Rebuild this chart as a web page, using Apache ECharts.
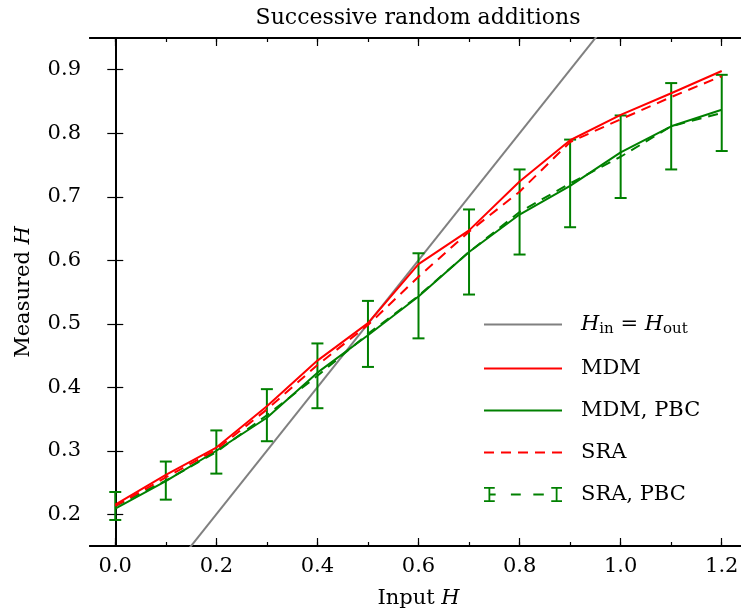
<!DOCTYPE html>
<html>
<head>
<meta charset="utf-8">
<script src="https://cdn.jsdelivr.net/npm/echarts@6/dist/echarts.min.js"></script>
<style>
    html, body { margin: 0; padding: 0; background: #fff; }
    #chart { width: 741px; height: 612px; }
</style>
</head>
<body>
<div id="chart"></div>
<script>
'use strict';

// x positions (input H)
var inputH = [0.0, 0.1, 0.2, 0.3, 0.4, 0.5, 0.6, 0.7, 0.8, 0.9, 1.0, 1.1, 1.2];

// measured H for each method
var mdm = [0.215, 0.262, 0.305, 0.370, 0.442, 0.501, 0.594, 0.647, 0.724, 0.789, 0.829, 0.863, 0.898];
var mdmPbc = [0.209, 0.252, 0.300, 0.352, 0.423, 0.482, 0.543, 0.613, 0.672, 0.717, 0.770, 0.811, 0.837];
var sra = [0.213, 0.258, 0.302, 0.365, 0.435, 0.498, 0.574, 0.645, 0.708, 0.786, 0.822, 0.857, 0.890];
var sraPbc = [0.213, 0.253, 0.298, 0.356, 0.418, 0.484, 0.544, 0.613, 0.676, 0.721, 0.763, 0.811, 0.832];
var sraPbcErr = [0.022, 0.030, 0.034, 0.041, 0.051, 0.052, 0.067, 0.067, 0.067, 0.069, 0.065, 0.068, 0.060];

// identity line H_in = H_out
var identity = [0.0, 1.3];

// ticks
var xMajorTicks = [0.0, 0.2, 0.4, 0.6, 0.8, 1.0, 1.2];
var xMinorTicks = [0.0, 0.1, 0.2, 0.3, 0.4, 0.5, 0.6, 0.7, 0.8, 0.9, 1.0, 1.1, 1.2];
var yTicks = [0.2, 0.3, 0.4, 0.5, 0.6, 0.7, 0.8, 0.9];

var FONT = 'DejaVu Serif';
var FS = 21;
var RED = '#ff0000';
var GREEN = '#008000';
var GRAY = '#808080';

var zip = function (xs, ys) {
    return xs.map(function (x, i) { return [x, ys[i]]; });
};

var errData = inputH.map(function (x, i) {
    return [x, sraPbc[i] - sraPbcErr[i], sraPbc[i] + sraPbcErr[i]];
});

// errorbar icon for the legend (dashed line with caps at both ends)
var errIcon = 'path://M5,0h2v17h-2z M0,0h12v2h-12z M0,15h12v2h-12z' +
    ' M6,7.5h7v2h-7z M30,7.5h11v2h-11z M55,7.5h11.7v2h-11.7z' +
    ' M80,0h2v17h-2z M75,0h12v2h-12z M75,15h12v2h-12z';

var axisLine = { show: true, lineStyle: { color: '#000', width: 2 } };

var xAxisBase = function (pos, ticks, len, withLabel) {
    return {
        type: 'value',
        position: pos,
        min: -0.05,
        max: 1.25,
        axisLine: axisLine,
        splitLine: { show: false },
        axisTick: { show: true, inside: true, length: len, customValues: ticks,
            lineStyle: { color: '#000', width: 1.2 } },
        axisLabel: withLabel ? {
            show: true, customValues: ticks, margin: 10,
            fontFamily: FONT, fontSize: FS, color: '#000',
            formatter: function (v) { return v.toFixed(1); }
        } : { show: false }
    };
};

var yAxisBase = function (pos, withLabel) {
    return {
        type: 'value',
        position: pos,
        min: 0.15,
        max: 0.95,
        axisLine: axisLine,
        splitLine: { show: false },
        axisTick: { show: true, inside: true, length: 8, customValues: yTicks,
            lineStyle: { color: '#000', width: 1.2 } },
        axisLabel: withLabel ? {
            show: true, customValues: yTicks, margin: 9,
            fontFamily: FONT, fontSize: FS, color: '#000',
            formatter: function (v) { return v.toFixed(1); }
        } : { show: false }
    };
};

var nameStyle = {
    fontFamily: FONT, fontSize: FS, color: '#000',
    rich: { i: { fontFamily: FONT, fontSize: FS, fontStyle: 'italic', color: '#000' } }
};

var xBottom = xAxisBase('bottom', xMajorTicks, 8, true);
xBottom.name = 'Input {i|H}';
xBottom.nameLocation = 'middle';
xBottom.nameGap = 42;
xBottom.nameTextStyle = nameStyle;

var yLeft = yAxisBase('left', true);
yLeft.name = 'Measured {i|H}';
yLeft.nameLocation = 'middle';
yLeft.nameGap = 56;
yLeft.nameTextStyle = nameStyle;

var chart = echarts.init(document.getElementById('chart'));

var option = {
    animation: false,
    backgroundColor: '#fff',
    title: {
        text: 'Successive random additions',
        left: 418,
        textAlign: 'center',
        top: 7,
        padding: 0,
        textStyle: { fontFamily: FONT, fontSize: 22, fontWeight: 'normal', color: '#000' }
    },
    grid: { left: 90, right: -6, top: 38, bottom: 66, outerBoundsMode: 'none', containLabel: false },
    legend: {
        orient: 'vertical',
        left: 483,
        top: 314,
        padding: 0,
        itemWidth: 78,
        itemHeight: 17,
        itemGap: 21,
        itemStyle: { opacity: 0 },
        data: [
            { name: 'H_in = H_out' },
            { name: 'MDM' },
            { name: 'MDM, PBC' },
            { name: 'SRA' },
            { name: 'SRA, PBC', icon: errIcon, itemStyle: { opacity: 1 } }
        ],
        formatter: function (name) {
            if (name === 'H_in = H_out') {
                return '{i|H}{s|in} = {i|H}{s|out}';
            }
            return name;
        },
        textStyle: {
            fontFamily: FONT, fontSize: FS, color: '#000',
            padding: [0, 0, 0, 14],
            rich: {
                i: { fontFamily: FONT, fontSize: FS, fontStyle: 'italic', color: '#000' },
                s: { fontFamily: FONT, fontSize: 15, color: '#000', padding: [10, 0, 0, 0] }
            }
        }
    },
    xAxis: [
        xBottom,
        xAxisBase('bottom', xMinorTicks, 4, false),
        xAxisBase('top', xMajorTicks, 8, false),
        xAxisBase('top', xMinorTicks, 4, false)
    ],
    yAxis: [
        yLeft,
        yAxisBase('right', false)
    ],
    series: [
        {
            name: 'H_in = H_out',
            type: 'line',
            data: zip(identity, identity),
            symbol: 'none',
            lineStyle: { color: GRAY, width: 2 },
            itemStyle: { color: GRAY },
            z: 1
        },
        {
            name: 'SRA, PBC err',
            type: 'custom',
            data: errData,
            z: 2,
            renderItem: function (params, api) {
                var x = api.value(0);
                var lo = api.coord([x, api.value(1)]);
                var hi = api.coord([x, api.value(2)]);
                var cap = 6;
                var style = { stroke: GREEN, lineWidth: 2 };
                return {
                    type: 'group',
                    children: [
                        { type: 'line', shape: { x1: lo[0], y1: lo[1], x2: hi[0], y2: hi[1] }, style: style },
                        { type: 'line', shape: { x1: lo[0] - cap, y1: lo[1], x2: lo[0] + cap, y2: lo[1] }, style: style },
                        { type: 'line', shape: { x1: hi[0] - cap, y1: hi[1], x2: hi[0] + cap, y2: hi[1] }, style: style }
                    ]
                };
            }
        },
        {
            name: 'SRA, PBC',
            type: 'line',
            data: zip(inputH, sraPbc),
            symbol: 'none',
            lineStyle: { color: GREEN, width: 2, type: [10, 7] },
            itemStyle: { color: GREEN },
            z: 3
        },
        {
            name: 'MDM, PBC',
            type: 'line',
            data: zip(inputH, mdmPbc),
            symbol: 'none',
            lineStyle: { color: GREEN, width: 2 },
            itemStyle: { color: GREEN },
            z: 3
        },
        {
            name: 'SRA',
            type: 'line',
            data: zip(inputH, sra),
            symbol: 'none',
            lineStyle: { color: RED, width: 2, type: [10, 7] },
            itemStyle: { color: RED },
            z: 4
        },
        {
            name: 'MDM',
            type: 'line',
            data: zip(inputH, mdm),
            symbol: 'none',
            lineStyle: { color: RED, width: 2 },
            itemStyle: { color: RED },
            z: 4
        }
    ]
};

chart.setOption(option);
</script>
</body>
</html>
